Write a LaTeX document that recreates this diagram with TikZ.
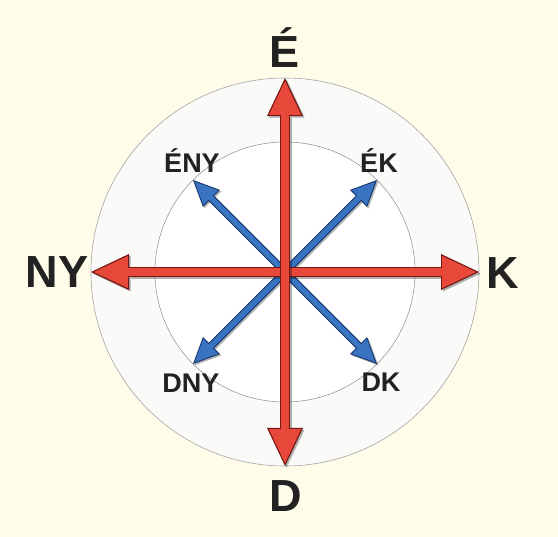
\documentclass[tikz,border=0pt]{standalone}
\usepackage{fontspec}
\setmainfont{Liberation Sans}
\usepackage{tikz}
\usetikzlibrary{arrows.meta}
\definecolor{bgCream}{RGB}{255,253,233}
\definecolor{ringGray}{RGB}{165,165,165}
\definecolor{discGray}{RGB}{250,250,249}
\definecolor{arrowRed}{RGB}{232,72,58}
\definecolor{edgeRed}{RGB}{118,24,18}
\definecolor{arrowBlue}{RGB}{58,116,192}
\definecolor{edgeBlue}{RGB}{22,50,108}
\definecolor{labelBlack}{RGB}{34,34,34}

\begin{document}
\begin{tikzpicture}[
    x=1pt, y=-1pt,
    bigname/.style={font=\fontsize{45}{45}\selectfont\bfseries, text=labelBlack,
                    anchor=base, inner sep=0pt},
    smallname/.style={font=\fontsize{27}{27}\selectfont\bfseries, text=labelBlack,
                      anchor=base, inner sep=0pt},
    mainarrow/.style={draw=arrowRed, line width=8pt, shorten <=2.8pt, shorten >=2.8pt,
        {Triangle[width=32pt,length=34pt,line width=0pt]}-{Triangle[width=32pt,length=34pt,line width=0pt]},
        preaction={draw=black, opacity=.3, line width=10.4pt, shorten <=0pt, shorten >=0pt,
            transform canvas={shift={(1.6pt,-1.6pt)}},
            {Triangle[width=36pt,length=38pt,line width=0pt]}-{Triangle[width=36pt,length=38pt,line width=0pt]}},
        preaction={draw=edgeRed, line width=10.4pt, shorten <=0pt, shorten >=0pt,
            {Triangle[width=36pt,length=38pt,line width=0pt]}-{Triangle[width=36pt,length=38pt,line width=0pt]}}},
    sidearrow/.style={draw=arrowBlue, line width=5.5pt, shorten >=2.4pt,
        -{Triangle[width=21pt,length=22.6pt,line width=0pt]},
        preaction={draw=black, opacity=.3, line width=7.5pt, shorten >=0pt,
            transform canvas={shift={(1.4pt,-1.4pt)}},
            -{Triangle[width=24pt,length=26pt,line width=0pt]}},
        preaction={draw=edgeBlue, line width=7.5pt, shorten >=0pt,
            -{Triangle[width=24pt,length=26pt,line width=0pt]}}}
  ]
    \fill[bgCream] (0,0) rectangle (558,537);
    \useasboundingbox (0,0) rectangle (558,537);

    % compass rings
    \coordinate (O) at (285,272);
    \filldraw[fill=discGray, draw=ringGray, line width=0.6pt] (O) circle (194pt);
    \filldraw[fill=white, draw=ringGray!85!black, line width=0.5pt] (O) circle (130pt);

    % arrow tips
    \coordinate (N) at (285,78);
    \coordinate (S) at (285,466);
    \coordinate (W) at (91,272);
    \coordinate (E) at (479,272);
    \coordinate (NW) at (193,180);
    \coordinate (NE) at (377,180);
    \coordinate (SW) at (193,364);
    \coordinate (SE) at (377,364);

    % intermediate directions
    \foreach \tip in {NW,NE,SW,SE}
      \draw[sidearrow] (O) -- (\tip);

    % main directions
    \draw[mainarrow] (W) -- (E);
    \draw[mainarrow] (S) -- (N);

    % labels
    \node[bigname] (labN) at (285,68) {É};
    \node[bigname] (labS) at (286,512) {D};
    \node[bigname] (labW) at (57,288) {NY};
    \node[bigname] (labE) at (503,289) {K};
    \node[smallname] (labNW) at (192,173) {ÉNY};
    \node[smallname] (labNE) at (379,173) {ÉK};
    \node[smallname] (labSW) at (191,393) {DNY};
    \node[smallname] (labSE) at (381,392) {DK};
\end{tikzpicture}
\end{document}
